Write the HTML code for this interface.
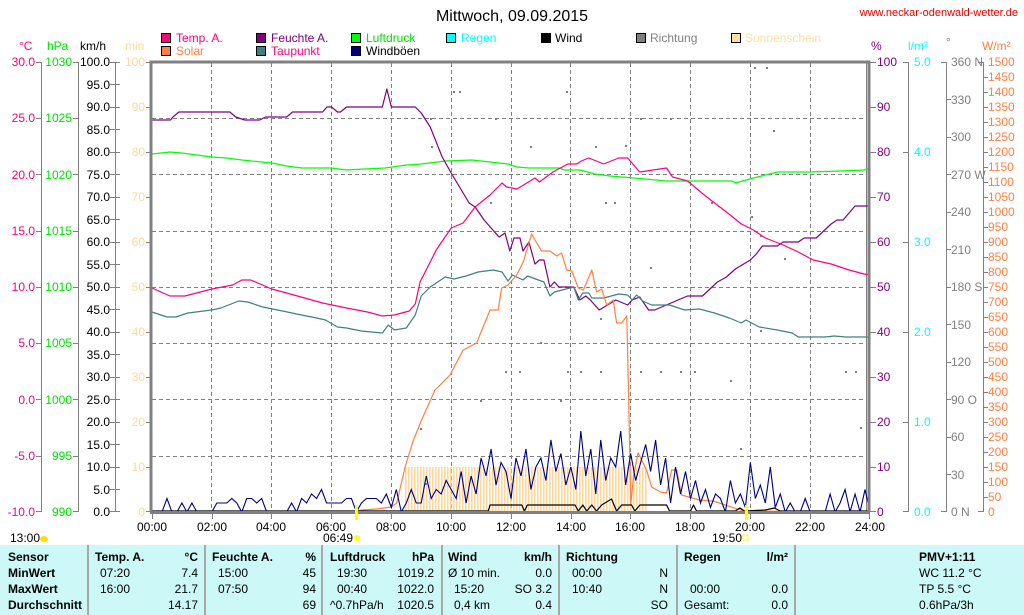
<!DOCTYPE html>
<html><head><meta charset="utf-8"><style>
html,body{margin:0;padding:0;background:#fff;width:1024px;height:615px;overflow:hidden}
svg{display:block}
text{font-family:"Liberation Sans",sans-serif;font-size:12px}
.b{font-weight:bold}
</style></head><body>
<svg width="1024" height="615" viewBox="0 0 1024 615" xmlns="http://www.w3.org/2000/svg">
<defs>
<pattern id="sun" x="405" y="0" width="3" height="10" patternUnits="userSpaceOnUse"><rect x="0" y="0" width="1.6" height="10" fill="#ffd898"/></pattern>
</defs>
<text x="512" y="21" text-anchor="middle" style="font-size:16px" fill="#000">Mittwoch, 09.09.2015</text>
<text x="1018" y="16" text-anchor="end" style="font-size:11px" fill="#e00000">www.neckar-odenwald-wetter.de</text>

<g style="font-size:12px">
<rect x="161.5" y="33.5" width="9" height="9" fill="#ff0080" stroke="#000"/><text x="176" y="42" fill="#ff0080">Temp. A.</text>
<rect x="161.5" y="46.5" width="9" height="9" fill="#ff8040" stroke="#000"/><text x="176" y="55" fill="#ff8040">Solar</text>
<rect x="256.5" y="33.5" width="9" height="9" fill="#800080" stroke="#000"/><text x="271" y="42" fill="#800080">Feuchte A.</text>
<rect x="256.5" y="46.5" width="9" height="9" fill="#408080" stroke="#000"/><text x="271" y="55" fill="#ff0080">Taupunkt</text>
<rect x="351.5" y="33.5" width="9" height="9" fill="#00ff00" stroke="#000"/><text x="366" y="42" fill="#00e000">Luftdruck</text>
<rect x="351.5" y="46.5" width="9" height="9" fill="#000080" stroke="#000"/><text x="366" y="55" fill="#000">Windböen</text>
<rect x="446.5" y="33.5" width="9" height="9" fill="#00ffff" stroke="#000"/><text x="461" y="42" fill="#00ffff">Regen</text>
<rect x="541.5" y="33.5" width="9" height="9" fill="#000" stroke="#000"/><text x="555" y="42" fill="#000">Wind</text>
<rect x="636.5" y="33.5" width="9" height="9" fill="#808080" stroke="#000"/><text x="650" y="42" fill="#808080">Richtung</text>
<rect x="731.5" y="33.5" width="9" height="9" fill="#ffe0a0" stroke="#000"/><text x="745" y="42" fill="#ffe0a0">Sonnenschein</text>
</g>

<g style="font-size:11px">
<text x="19" y="50" fill="#ff0080">°C</text>
<text x="47" y="50" fill="#00e000">hPa</text>
<text x="80" y="50" fill="#000">km/h</text>
<text x="125" y="50" fill="#ffd898">min</text>
<text x="871" y="50" fill="#800080">%</text>
<text x="908" y="50" fill="#00ffff">l/m²</text>
<text x="946" y="46" fill="#808080">°</text>
<text x="982" y="50" fill="#ff8040">W/m²</text>
</g>

<g stroke="#808080" stroke-width="1" fill="none">
<line x1="41.5" y1="62" x2="41.5" y2="512"/>
<line x1="78.5" y1="62" x2="78.5" y2="512"/>
<line x1="115.5" y1="62" x2="115.5" y2="512"/>
<line x1="908.5" y1="62" x2="908.5" y2="512"/>
<line x1="946.5" y1="62" x2="946.5" y2="512"/>
<line x1="983.5" y1="62" x2="983.5" y2="512"/>
<line x1="866.5" y1="62" x2="866.5" y2="512"/>
</g>
<g style="font-size:12px">
<g fill="#ff0080" text-anchor="end">
<text x="35" y="66">30.0</text><text x="35" y="122">25.0</text><text x="35" y="179">20.0</text><text x="35" y="235">15.0</text><text x="35" y="291">10.0</text><text x="35" y="347">5.0</text><text x="35" y="404">0.0</text><text x="35" y="460">-5.0</text><text x="35" y="516">-10.0</text>
</g>
<g fill="#00e000" text-anchor="end">
<text x="72" y="66">1030</text><text x="72" y="122">1025</text><text x="72" y="179">1020</text><text x="72" y="235">1015</text><text x="72" y="291">1010</text><text x="72" y="347">1005</text><text x="72" y="404">1000</text><text x="72" y="460">995</text><text x="72" y="516">990</text>
</g>
<g fill="#000" text-anchor="end">
<text x="110" y="66">100.0</text><text x="110" y="89">95.0</text><text x="110" y="111">90.0</text><text x="110" y="134">85.0</text><text x="110" y="156">80.0</text><text x="110" y="179">75.0</text><text x="110" y="201">70.0</text><text x="110" y="224">65.0</text><text x="110" y="246">60.0</text><text x="110" y="269">55.0</text><text x="110" y="291">50.0</text><text x="110" y="314">45.0</text><text x="110" y="336">40.0</text><text x="110" y="359">35.0</text><text x="110" y="381">30.0</text><text x="110" y="404">25.0</text><text x="110" y="426">20.0</text><text x="110" y="449">15.0</text><text x="110" y="471">10.0</text><text x="110" y="494">5.0</text><text x="110" y="516">0.0</text>
</g>
<g fill="#ffd898" text-anchor="end">
<text x="145" y="66">100</text><text x="145" y="111">90</text><text x="145" y="156">80</text><text x="145" y="201">70</text><text x="145" y="246">60</text><text x="145" y="291">50</text><text x="145" y="336">40</text><text x="145" y="381">30</text><text x="145" y="426">20</text><text x="145" y="471">10</text><text x="145" y="516">0</text>
</g>
<g fill="#800080">
<text x="877" y="66">100</text><text x="877" y="111">90</text><text x="877" y="156">80</text><text x="877" y="201">70</text><text x="877" y="246">60</text><text x="877" y="291">50</text><text x="877" y="336">40</text><text x="877" y="381">30</text><text x="877" y="426">20</text><text x="877" y="471">10</text><text x="877" y="516">0</text>
</g>
<g fill="#00ffff">
<text x="914" y="66">5.0</text><text x="914" y="156">4.0</text><text x="914" y="246">3.0</text><text x="914" y="336">2.0</text><text x="914" y="426">1.0</text><text x="914" y="516">0.0</text>
</g>
<g fill="#808080" style="font-size:11px">
<text x="951" y="66">360 N</text><text x="951" y="104">330</text><text x="951" y="141">300</text><text x="951" y="179">270 W</text><text x="951" y="216">240</text><text x="951" y="254">210</text><text x="951" y="291">180 S</text><text x="951" y="329">150</text><text x="951" y="366">120</text><text x="951" y="404">90 O</text><text x="951" y="441">60</text><text x="951" y="479">30</text><text x="951" y="516">0 N</text>
</g>
<g fill="#ff8040" style="font-size:11px">
<text x="988" y="66">1500</text><text x="988" y="81">1450</text><text x="988" y="96">1400</text><text x="988" y="111">1350</text><text x="988" y="126">1300</text><text x="988" y="141">1250</text><text x="988" y="156">1200</text><text x="988" y="171">1150</text><text x="988" y="186">1100</text><text x="988" y="201">1050</text><text x="988" y="216">1000</text><text x="988" y="231">950</text><text x="988" y="246">900</text><text x="988" y="261">850</text><text x="988" y="276">800</text><text x="988" y="291">750</text><text x="988" y="306">700</text><text x="988" y="321">650</text><text x="988" y="336">600</text><text x="988" y="351">550</text><text x="988" y="366">500</text><text x="988" y="381">450</text><text x="988" y="396">400</text><text x="988" y="411">350</text><text x="988" y="426">300</text><text x="988" y="441">250</text><text x="988" y="456">200</text><text x="988" y="471">150</text><text x="988" y="486">100</text><text x="988" y="501">50</text><text x="988" y="516">0</text>
</g>
</g>
<g stroke="#808080" stroke-width="1">
<path d="M36 62.5h5M36 118.5h5M36 174.5h5M36 231.5h5M36 287.5h5M36 343.5h5M36 399.5h5M36 456.5h5M36 511.5h5"/>
<path d="M73 62.5h5M73 118.5h5M73 174.5h5M73 231.5h5M73 287.5h5M73 343.5h5M73 399.5h5M73 456.5h5M73 511.5h5"/>
<path d="M110 62.5h10M110 84.5h10M110 107.5h10M110 129.5h10M110 152.5h10M110 174.5h10M110 197.5h10M110 219.5h10M110 242.5h10M110 264.5h10M110 287.5h10M110 309.5h10M110 332.5h10M110 354.5h10M110 377.5h10M110 399.5h10M110 422.5h10M110 444.5h10M110 467.5h10M110 489.5h10M110 511.5h10"/>
<path d="M146 62.5h5M146 107.5h5M146 152.5h5M146 197.5h5M146 242.5h5M146 287.5h5M146 332.5h5M146 377.5h5M146 422.5h5M146 467.5h5M146 511.5h5"/>
<path d="M870 62.5h6M870 107.5h6M870 152.5h6M870 197.5h6M870 242.5h6M870 287.5h6M870 332.5h6M870 377.5h6M870 422.5h6M870 467.5h6M870 511.5h6"/>
<path d="M903 62.5h6M903 152.5h6M903 242.5h6M903 332.5h6M903 422.5h6M903 511.5h6"/>
<path d="M941 62.5h6M946 99.5h5M946 137.5h5M946 174.5h5M946 212.5h5M946 249.5h5M946 287.5h5M946 324.5h5M946 362.5h5M946 399.5h5M946 437.5h5M946 474.5h5M941 511.5h6"/>
<path d="M978 62.5h6M983 77.5h5M983 92.5h5M983 107.5h5M983 122.5h5M983 137.5h5M983 152.5h5M983 167.5h5M983 182.5h5M983 197.5h5M983 212.5h5M983 227.5h5M983 242.5h5M983 257.5h5M983 272.5h5M983 287.5h5M983 302.5h5M983 317.5h5M983 332.5h5M983 347.5h5M983 362.5h5M983 377.5h5M983 392.5h5M983 407.5h5M983 422.5h5M983 437.5h5M983 452.5h5M983 467.5h5M983 482.5h5M983 497.5h5M978 511.5h6"/>
</g>

<g stroke="#808080" stroke-width="1" stroke-dasharray="4,3">
<path d="M152 118.5H867M152 174.5H867M152 231.5H867M152 287.5H867M152 343.5H867M152 399.5H867M152 456.5H867"/>
<path d="M211.5 63V512M271.5 63V512M331.5 63V512M391.5 63V512M451.5 63V512M511.5 63V512M570.5 63V512M630.5 63V512M690.5 63V512M750.5 63V512M810.5 63V512"/>
</g>
<rect x="405" y="467" width="242" height="45" fill="url(#sun)"/>
<g fill="#808080">
<rect x="453" y="91" width="2" height="2"/><rect x="459" y="91" width="2" height="2"/><rect x="566" y="91" width="2" height="2"/><rect x="754" y="67" width="2" height="2"/><rect x="766" y="67" width="2" height="2"/>
<rect x="430" y="118" width="2" height="2"/><rect x="495" y="118" width="2" height="2"/><rect x="640" y="118" width="2" height="2"/><rect x="670" y="118" width="2" height="2"/><rect x="773" y="130" width="2" height="2"/>
<rect x="431" y="146" width="2" height="2"/><rect x="530" y="146" width="2" height="2"/><rect x="595" y="146" width="2" height="2"/><rect x="625" y="145" width="2" height="2"/><rect x="605" y="202" width="2" height="2"/><rect x="614" y="202" width="2" height="2"/><rect x="711" y="202" width="2" height="2"/><rect x="751" y="216" width="2" height="2"/>
<rect x="490" y="202" width="2" height="2"/><rect x="760" y="235" width="2" height="2"/><rect x="784" y="258" width="2" height="2"/><rect x="650" y="267" width="2" height="2"/>
<rect x="450" y="342" width="2" height="2"/><rect x="540" y="342" width="2" height="2"/><rect x="600" y="318" width="2" height="2"/><rect x="760" y="330" width="2" height="2"/>
<rect x="505" y="371" width="2" height="2"/><rect x="519" y="371" width="2" height="2"/><rect x="567" y="371" width="2" height="2"/><rect x="580" y="371" width="2" height="2"/><rect x="600" y="371" width="2" height="2"/><rect x="640" y="371" width="2" height="2"/><rect x="660" y="371" width="2" height="2"/><rect x="680" y="371" width="2" height="2"/><rect x="694" y="371" width="2" height="2"/><rect x="845" y="371" width="2" height="2"/><rect x="855" y="371" width="2" height="2"/><rect x="730" y="380" width="2" height="2"/>
<rect x="480" y="400" width="2" height="2"/><rect x="560" y="400" width="2" height="2"/><rect x="420" y="428" width="2" height="2"/><rect x="860" y="427" width="2" height="2"/><rect x="740" y="448" width="2" height="2"/><rect x="425" y="483" width="2" height="2"/>
</g>

<g transform="translate(152 0) scale(29.917 1)" fill="none" stroke-width="1.2" stroke-linejoin="round">
<polyline vector-effect="non-scaling-stroke" stroke="#00ff00" points="0,154 0.6,152 1,153 1.5,155 2,157 2.5,158 3,160 4,163 4.5,166 5,168 6,168 6.5,170 7.1,169 7.8,168 8.5,165 9,164 9.8,161 10.7,160 11.9,164 12.2,167 12.6,168 13.6,168 13.8,170 14.3,170 14.8,174 15.3,176 16.1,178 16.5,179 17.2,181 19.4,181 19.5,183 20.1,178 20.9,172 22,172 23,171 23.8,170 24,168"/>
<polyline vector-effect="non-scaling-stroke" stroke="#800080" points="0,120 0.62,120 0.7,117 0.9,112 2.6,112 2.8,117 3.1,120 3.6,120 3.8,117 4.5,117 4.7,112 5.7,112 5.85,107 6.0,107 6.2,112 6.3,112 6.5,107 7.7,107 7.85,89 8.0,107 8.8,107 9.0,113 9.3,127 9.7,157 10.0,173 10.2,183 10.6,203 10.8,207 11.1,220 11.6,237 11.8,233 11.96,251 12.1,238 12.3,238 12.4,251 12.6,242 12.8,264 12.95,260 13.1,260 13.3,287 13.45,282 13.6,287 14.1,287 14.3,300 14.5,296 14.65,300 14.95,310 15.5,300 15.9,305 16.05,300 16.3,297 16.6,310 16.8,310 17.9,296 18.4,296 18.9,282 19.2,277 19.5,269 20,260 20.2,254 20.4,246 20.9,246 21.1,242 21.6,242 21.8,238 22.2,238 22.7,224 22.9,220 23.1,220 23.5,206 24,206"/>
<polyline vector-effect="non-scaling-stroke" stroke="#ff0080" points="0,288 0.6,296 1.1,296 2,289 2.7,285 3,280 3.3,280 4,289 4.5,293 5.7,303 6.5,308 7.2,312 7.7,316 8.1,315 8.6,311 8.8,304 8.96,282 9.3,262 9.5,250 10,228 10.4,223 10.8,207 11.3,195 11.7,183 11.85,187 12.2,189 12.8,178 12.95,182 13.4,172 13.9,164 14.2,164 14.35,161 14.6,158 15.1,164 15.6,158 15.9,158 16.3,172 17.2,168 17.4,177 17.9,181 18.5,196 19.2,212 19.7,224 20.1,230 20.5,238 21.1,245 21.6,252 22.1,260 22.7,264 23.3,270 23.8,274 24,275"/>
<polyline vector-effect="non-scaling-stroke" stroke="#408080" points="0,312 0.5,317 0.8,317 1.2,313 2,310 2.3,308 2.9,301 3.2,302 3.7,307 4.2,310 5,315 5.5,318 5.8,320 6.2,327 6.5,328 7,331 7.7,333 7.9,325 8.1,330 8.5,328 8.8,315 9,296 9.3,287 9.8,277 10.1,279 10.5,276 10.9,272 11.4,270 11.7,272 11.9,281 12.05,275 12.4,280 12.55,276 13.1,282 13.3,296 13.45,292 14.1,287 14.25,300 14.4,293 14.6,293 14.7,298 15.1,298 15.6,294 15.9,295 16.05,300 16.2,295 16.4,301 16.7,305 17.3,305 17.8,310 18.3,309 18.8,313 19.3,318 19.7,323 19.85,320 20.3,327 20.9,330 21.4,333 21.6,337 22.5,337 22.8,336 23.2,337 24,337"/>
<polyline vector-effect="non-scaling-stroke" stroke="#ff8040" points="0,512 6.8,512 7,510 7.5,509 8,507 8.18,503 8.46,467 8.73,441 9.01,420 9.46,390 9.96,375 10.4,350 10.85,343 11.3,310 11.57,310 11.69,288 11.9,285 12.19,275 12.41,262 12.69,234 12.86,243 13.02,251 13.3,251 13.53,256 13.69,253 13.86,270 14.03,271 14.25,288 14.42,290 14.7,270 14.86,292 15.03,289 15.2,305 15.42,300 15.53,323 15.7,323 15.87,316 15.92,380 15.98,470 16.0,505 16.1,475 16.25,453 16.53,470 16.7,487 17,492 17.2,493 17.37,470 17.54,470 17.7,495 18.3,500 18.76,501 19.76,511 24,512"/>
<polyline vector-effect="non-scaling-stroke" stroke="#000" points="0,511 11.24,511 11.3,505 12.36,505 12.45,511 12.55,505 14.14,505 14.25,511 14.4,505 14.53,511 14.7,505 14.86,511 15.03,505 15.36,499 15.53,511 15.7,505 16.03,505 16.14,511 16.31,505 17.2,505 17.3,511 18,511 18.1,505 18.2,511 19.5,511 19.65,508 19.8,511 20.5,510 20.8,508 21,511 24,511"/>
</g>
<g transform="translate(152 512) scale(4.9862 -4.5)" fill="none">
<polyline vector-effect="non-scaling-stroke" stroke="#000080" stroke-width="1.1" points="0,0 1,0 2,0 3,3 4,0 5,0 6,2 7,0 8,2 9,0 10,0 11,0 12,0 13,2 14,2 15,2 16,3 17,2 18,0 19,3 20,3 21,2 22,3 23,0 24,0 25,0 26,0 27,0 28,2 29,0 30,3 31,2 32,4 33,3 34,5 35,2 36,2 37,2 38,2 39,3 40,3 41,0 42,2 43,3 44,3 45,3 46,2 47,4 48,1 49,5 50,0 51,2 52,5 53,2 54,2 55,8 56,3 57,5 58,4 59,7 60,5 61,3 62,9 63,2 64,8 65,4 66,12 67,8 68,14 69,6 70,11 71,9 72,3 73,12 74,8 75,14 76,5 77,10 78,12 79,7 80,16 81,9 82,13 83,6 84,10 85,5 86,18 87,8 88,14 89,4 90,16 91,7 92,12 93,10 94,18 95,6 96,13 97,7 98,11 99,15 100,9 101,16 102,6 103,12 104,2 105,10 106,4 107,9 108,3 109,7 110,2 111,5 112,1 113,4 114,3 115,0 116,7 117,2 118,4 119,1 120,11 121,3 122,6 123,2 124,10 125,1 126,4 127,0 128,2 129,0 130,0 131,3 132,0 133,0 134,0 135,0 136,4 137,0 138,2 139,5 140,0 141,4 142,0 143,5 144,0"/>
</g>

<path d="M151 512V62H869V512" fill="none" stroke="#808080" stroke-width="3"/>
<line x1="150" y1="512.5" x2="870" y2="512.5" stroke="#808080" stroke-width="3"/>
<g stroke="#808080"><path d="M152.5 513v6M212.5 513v6M271.5 513v6M331.5 513v6M391.5 513v6M451.5 513v6M511.5 513v6M571.5 513v6M630.5 513v6M690.5 513v6M750.5 513v6M810.5 513v6M869.5 513v6"/></g>
<rect x="355" y="505" width="3" height="15" fill="#ffff00"/>
<rect x="745" y="505" width="3" height="15" fill="#ffff00"/>
<g style="font-size:12px" fill="#000" text-anchor="middle">
<text x="152" y="531">00:00</text><text x="212" y="531">02:00</text><text x="271" y="531">04:00</text><text x="331" y="531">06:00</text><text x="391" y="531">08:00</text><text x="451" y="531">10:00</text><text x="511" y="531">12:00</text><text x="571" y="531">14:00</text><text x="630" y="531">16:00</text><text x="690" y="531">18:00</text><text x="750" y="531">20:00</text><text x="810" y="531">22:00</text><text x="870" y="531">24:00</text>
</g>
<text x="10" y="542" fill="#000">13:00</text>
<ellipse cx="44" cy="539" rx="4" ry="3" fill="#ffe000"/>
<text x="323" y="542" fill="#000">06:49</text>
<circle cx="357" cy="538" r="3" fill="#ffff00"/>
<text x="712" y="542" fill="#000">19:50</text>
<rect x="743" y="535" width="5" height="5" fill="none" stroke="#ffff00"/>

<rect x="0" y="545" width="1024" height="70" fill="#ccf8f8"/>
<g stroke="#a8a8a8" stroke-width="2"><path d="M88 545V615M205 545V615M322 545V615M442 545V615M559 545V615M677 545V615M795 545V615"/></g>
<g style="font-size:12px" fill="#000">
<g class="b"><text x="8" y="561">Sensor</text><text x="8" y="577">MinWert</text><text x="8" y="593">MaxWert</text><text x="8" y="609">Durchschnitt</text>
<text x="95" y="561">Temp. A.</text><text x="198" y="561" text-anchor="end">°C</text>
<text x="212" y="561">Feuchte A.</text><text x="316" y="561" text-anchor="end">%</text>
<text x="330" y="561">Luftdruck</text><text x="434" y="561" text-anchor="end">hPa</text>
<text x="448" y="561">Wind</text><text x="552" y="561" text-anchor="end">km/h</text>
<text x="566" y="561">Richtung</text>
<text x="684" y="561">Regen</text><text x="788" y="561" text-anchor="end">l/m²</text>
<text x="919" y="561">PMV+1:11</text></g>
<text x="100" y="577">07:20</text><text x="198" y="577" text-anchor="end">7.4</text>
<text x="100" y="593">16:00</text><text x="198" y="593" text-anchor="end">21.7</text>
<text x="198" y="609" text-anchor="end">14.17</text>
<text x="218" y="577">15:00</text><text x="316" y="577" text-anchor="end">45</text>
<text x="218" y="593">07:50</text><text x="316" y="593" text-anchor="end">94</text>
<text x="316" y="609" text-anchor="end">69</text>
<text x="337" y="577">19:30</text><text x="434" y="577" text-anchor="end">1019.2</text>
<text x="337" y="593">00:40</text><text x="434" y="593" text-anchor="end">1022.0</text>
<text x="330" y="609">^0.7hPa/h</text><text x="434" y="609" text-anchor="end">1020.5</text>
<text x="448" y="577">Ø 10 min.</text><text x="552" y="577" text-anchor="end">0.0</text>
<text x="454" y="593">15:20</text><text x="552" y="593" text-anchor="end">SO 3.2</text>
<text x="454" y="609">0,4 km</text><text x="552" y="609" text-anchor="end">0.4</text>
<text x="572" y="577">00:00</text><text x="668" y="577" text-anchor="end">N</text>
<text x="572" y="593">10:40</text><text x="668" y="593" text-anchor="end">N</text>
<text x="668" y="609" text-anchor="end">SO</text>
<text x="690" y="593">00:00</text><text x="788" y="593" text-anchor="end">0.0</text>
<text x="684" y="609">Gesamt:</text><text x="788" y="609" text-anchor="end">0.0</text>
<text x="919" y="577">WC 11.2 °C</text>
<text x="919" y="593">TP 5.5 °C</text>
<text x="919" y="609">0.6hPa/3h</text>
</g>
</svg>
</body></html>
